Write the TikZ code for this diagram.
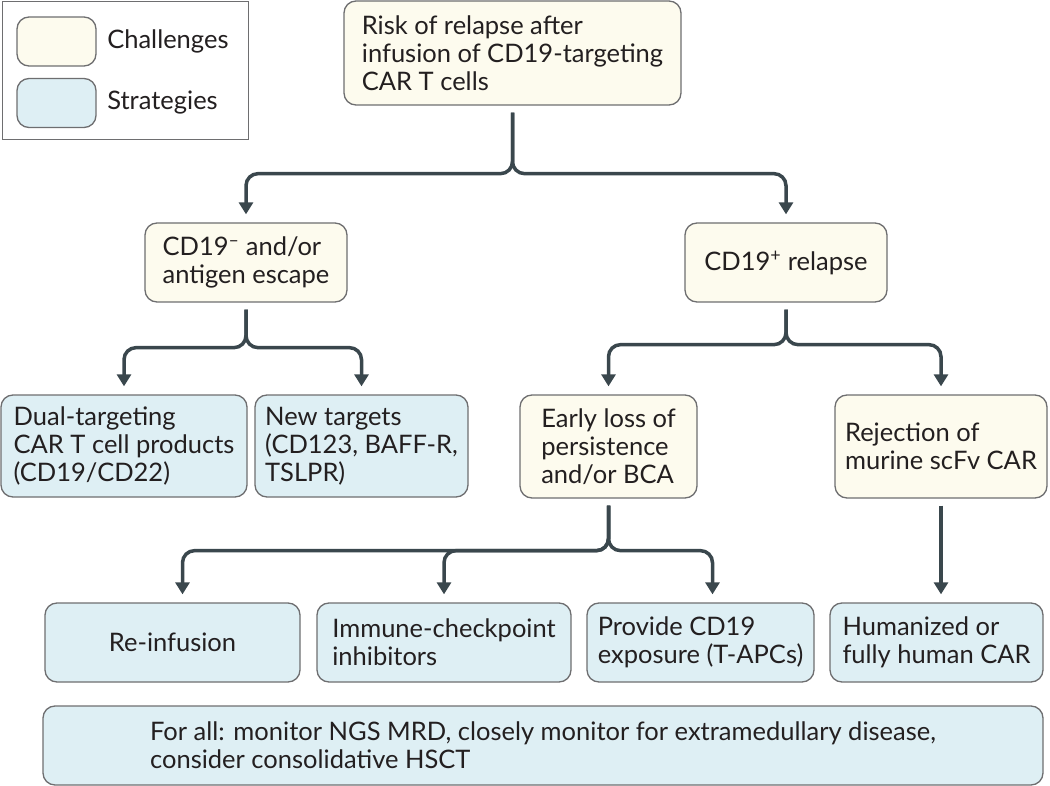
\documentclass[tikz,border=0pt]{standalone}
\usepackage{fontspec}
\setmainfont{Lato}
\usepackage{tikz}
\usetikzlibrary{arrows.meta,positioning,calc}
\definecolor{challfill}{RGB}{253,251,238}
\definecolor{stratfill}{RGB}{222,239,244}
\definecolor{boxline}{RGB}{110,110,112}
\definecolor{flowcol}{RGB}{58,71,77}
\definecolor{txtcol}{RGB}{35,31,32}
\tikzset{
  box/.style={draw=boxline,line width=1.3pt,rounded corners=12pt,align=left,text=txtcol,
    font=\fontsize{25.5}{28}\selectfont,inner sep=0pt},
  chall/.style={box,fill=challfill},
  strat/.style={box,fill=stratfill},
  flow/.style={draw=flowcol,line width=3.5pt,rounded corners=12pt,
    -{Triangle[width=14pt,length=12pt]},shorten <=7pt,shorten >=8pt},
}
\begin{document}
\begin{tikzpicture}[x=1pt,y=-1pt]
    \useasboundingbox (0,0) rectangle (1050,786);
    % legend
    \draw [boxline,line width=1pt] (2,2) rectangle (248,140);
    \node [chall,minimum width=79pt,minimum height=49pt] at (56.5,41.5) (legchall) {};
    \node [strat,minimum width=79pt,minimum height=49pt] at (56.5,103) (legstrat) {};
    \node [box,draw=none,right=10pt of legchall] (legchalltxt) {Challenges};
    \node [box,draw=none,right=10pt of legstrat] (legstrattxt) {Strategies};
    % challenges
    \node [chall,minimum width=337pt,minimum height=104pt] at (512.5,53) (risk) {Risk of relapse after\\infusion of CD19-targeting\\CAR T cells};
    \node [chall,minimum width=202pt,minimum height=79pt] at (246,262.5) (escape) {CD19\textsuperscript{--} and/or\\antigen escape};
    \node [chall,minimum width=202pt,minimum height=79pt] at (786,262.5) (relapse) {CD19\textsuperscript{+} relapse};
    \node [chall,minimum width=177pt,minimum height=103pt] at (608.5,446.5) (early) {Early loss of\\persistence\\and/or BCA};
    \node [chall,minimum width=212pt,minimum height=103pt] at (941,446.5) (reject) {Rejection of\\murine scFv CAR};
    % strategies
    \node [strat,minimum width=246pt,minimum height=102pt] at (124,446) (dual) {Dual-targeting\\CAR T cell products\\(CD19/CD22)};
    \node [strat,minimum width=213pt,minimum height=102pt] at (361.5,446) (newtg) {New targets\\(CD123, BAFF-R,\\TSLPR)};
    \node [strat,minimum width=255pt,minimum height=79pt] at (172.5,642.5) (reinf) {Re-infusion};
    \node [strat,minimum width=254pt,minimum height=79pt] at (444,642.5) (immune) {Immune-checkpoint\\inhibitors};
    \node [strat,minimum width=227pt,minimum height=79pt] at (700.5,642.5) (provide) {Provide CD19\\exposure (T-APCs)};
    \node [strat,minimum width=213pt,minimum height=79pt] at (936.5,642.5) (human) {Humanized or\\fully human CAR};
    \node [strat,minimum width=1000pt,minimum height=79pt] at (543,745.5) (forall) {For all: monitor NGS MRD, closely monitor for extramedullary disease,\\consider consolidative HSCT};
    % connectors
    \draw [flow] (risk.south) -- ++(0,68) -| (escape.north);
    \draw [flow] (risk.south) -- ++(0,68) -| (relapse.north);
    \draw [flow] (escape.south) -- ++(0,45) -| (dual.north);
    \draw [flow] (escape.south) -- ++(0,45) -| (newtg.north);
    \draw [flow] (relapse.south) -- ++(0,42) -| (early.north);
    \draw [flow] (relapse.south) -- ++(0,42) -| (reject.north);
    \draw [flow] (early.south) -- ++(0,52) -| ([xshift=10pt]reinf.north);
    \draw [flow] (early.south) -- ++(0,52) -| (immune.north);
    \draw [flow] (early.south) -- ++(0,52) -| ([xshift=12pt]provide.north);
    \draw [flow] (reject.south) -- (reject.south |- human.north);
\end{tikzpicture}
\end{document}
